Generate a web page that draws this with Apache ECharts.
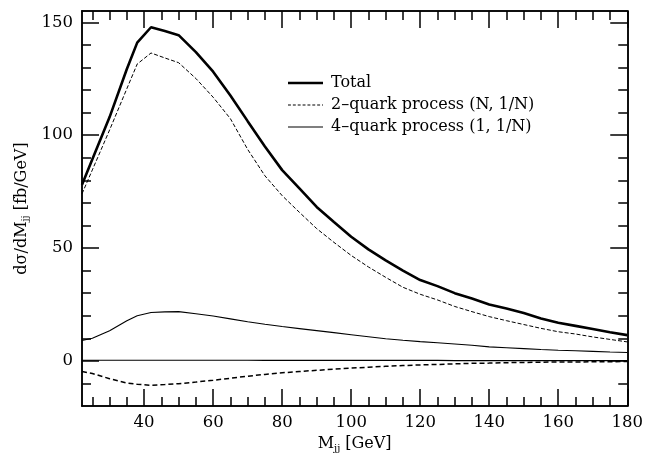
<!DOCTYPE html>
<html><head><meta charset="utf-8">
<script src="https://cdn.jsdelivr.net/npm/echarts@6/dist/echarts.min.js"></script>
<style>html,body{margin:0;padding:0;background:#fff}#c{width:646px;height:458px}</style>
</head><body><div id="c"></div>
<script>
const mass = [22,25,30,35,38,42,46,50,55,60,65,70,75,80,85,90,95,100,105,110,115,120,125,130,135,140,145,150,155,160,165,170,175,180];
const total = [78,89.3,108,129.3,141,147.8,146.1,144.3,136.8,128.1,117.6,106.2,95,84.5,76.4,68.2,61.5,55,49.4,44.5,40,35.8,33.1,30,27.6,25,23.2,21.2,18.8,16.9,15.5,14.1,12.7,11.4];
const twoQuark = [74,84.6,102.3,120.6,131.5,136.4,134.2,132.1,125.1,116.8,107.3,93.7,82,73.2,65.8,58.6,52.5,46.7,41.6,37,32.6,29.5,27,24.1,21.8,19.6,17.8,16.1,14.4,12.9,11.9,10.6,9.5,8.4];
const fourQuark = [9,10,13.3,17.8,20,21.4,21.7,21.8,20.9,19.9,18.6,17.3,16.2,15.2,14.3,13.4,12.5,11.6,10.7,9.8,9.1,8.5,8,7.5,6.9,6.2,5.8,5.4,5,4.7,4.5,4.2,3.9,3.7];
const twoQuarkSub = [-4.7,-5.6,-7.9,-9.8,-10.4,-10.8,-10.5,-10.1,-9.4,-8.6,-7.7,-6.8,-6,-5.3,-4.7,-4.2,-3.7,-3.2,-2.8,-2.4,-2.1,-1.8,-1.6,-1.3,-1.1,-1.0,-0.8,-0.7,-0.6,-0.5,-0.5,-0.4,-0.4,-0.3];
const fourQuarkSub = [0.3,0.3,0.3,0.3,0.3,0.3,0.3,0.3,0.3,0.3,0.3,0.3,0.2,0.2,0.2,0.2,0.2,0.2,0.2,0.2,0.2,0.2,0.2,0.1,0.1,0.1,0.1,0.1,0.1,0.1,0.1,0.1,0.1,0.1];
const xMajorTicks = [40,60,80,100,120,140,160,180];
const xMinorTicks = [25,30,35,45,50,55,65,70,75,85,90,95,105,110,115,125,130,135,145,150,155,165,170,175];
const yMajorTicks = [0,50,100,150];
const yMinorTicks = [-10,10,20,30,40,60,70,80,90,110,120,130,140];
const names = ['Total','2–quark process (N, 1/N)','4–quark process (1, 1/N)'];

const FONT = 'DejaVu Serif';
const X_MIN = 22, X_MAX = 180, Y_MIN = -20, Y_MAX = 155;
const pairs = arr => mass.map((m, i) => [m, arr[i]]);

function xAx(pos, ticks, len, labels, extra) {
  return Object.assign({
    type: 'value', position: pos, min: X_MIN, max: X_MAX,
    axisLine: {show: true, onZero: false, lineStyle: {color: '#000', width: 1.5}},
    axisTick: {show: true, inside: true, length: len, customValues: ticks, lineStyle: {color: '#000', width: 1.5}},
    axisLabel: labels ? {show: true, customValues: ticks, color: '#000', fontFamily: FONT, fontSize: 16.5, margin: 8} : {show: false},
    splitLine: {show: false}
  }, extra || {});
}
function yAx(pos, ticks, len, labels, extra) {
  return Object.assign({
    type: 'value', position: pos, min: Y_MIN, max: Y_MAX,
    axisLine: {show: true, onZero: false, lineStyle: {color: '#000', width: 1.5}},
    axisTick: {show: true, inside: true, length: len, customValues: ticks, lineStyle: {color: '#000', width: 1.5}},
    axisLabel: labels ? {show: true, customValues: ticks, color: '#000', fontFamily: FONT, fontSize: 16.5, margin: 9} : {show: false},
    splitLine: {show: false}
  }, extra || {});
}
// legend icon shapes
let dashPath = 'path://';
for (let i = 0; i < 36; i += 5) dashPath += 'M' + i + ',0H' + Math.min(i + 3, 36) + 'V1H' + i + 'Z';
function legendItem(name, rowCenter, h, icon) {
  return {
    data: [{name: name, icon: icon}], orient: 'horizontal', left: 283, top: rowCenter - 9,
    itemWidth: 35, itemHeight: h, itemGap: 0, selectedMode: false,
    textStyle: {color: '#000', fontFamily: FONT, fontSize: 16, lineHeight: 18, padding: [0, 0, 0, 3]},
    itemStyle: {color: '#000', borderWidth: 0}
  };
}

const chart = echarts.init(document.getElementById('c'));
chart.setOption({
  animation: false,
  backgroundColor: '#fff',
  grid: {left: 82, right: 17, top: 11, bottom: 49},
  legend: [
    legendItem(names[0], 78, 2.6, 'rect'),
    legendItem(names[1], 100, 1, dashPath),
    legendItem(names[2], 122, 1.1, 'rect')
  ],
  xAxis: [
    xAx('bottom', xMajorTicks, 17, true, {
      name: 'M{s|jj} [GeV]', nameLocation: 'middle', nameGap: 29,
      nameTextStyle: {color: '#000', fontFamily: FONT, fontSize: 16,
        rich: {s: {fontFamily: FONT, fontSize: 10, padding: [8, 0, 0, 0], color: '#000'}}}
    }),
    xAx('bottom', xMinorTicks, 9, false),
    xAx('top', xMajorTicks, 17, false),
    xAx('top', xMinorTicks, 9, false)
  ],
  yAxis: [
    yAx('left', yMajorTicks, 17, true, {
      name: 'dσ/dM{s|jj} [fb/GeV]', nameLocation: 'middle', nameGap: 48, nameRotate: 90,
      nameTextStyle: {color: '#000', fontFamily: FONT, fontSize: 16,
        rich: {s: {fontFamily: FONT, fontSize: 10, padding: [8, 0, 0, 0], color: '#000'}}}
    }),
    yAx('left', yMinorTicks, 9, false),
    yAx('right', yMajorTicks, 17, false),
    yAx('right', yMinorTicks, 9, false)
  ],
  series: [
    {name: names[0], type: 'line', data: pairs(total), symbol: 'none', lineStyle: {color: '#000', width: 2.6}, itemStyle: {color: '#000'}},
    {name: names[1], type: 'line', data: pairs(twoQuark), symbol: 'none', lineStyle: {color: '#000', width: 1, type: [4, 2]}, itemStyle: {color: '#000'}},
    {name: names[2], type: 'line', data: pairs(fourQuark), symbol: 'none', lineStyle: {color: '#000', width: 1.1}, itemStyle: {color: '#000'}},
    {name: '2-quark 1/N', type: 'line', data: pairs(twoQuarkSub), symbol: 'none', lineStyle: {color: '#000', width: 1.5, type: [5, 3]}, itemStyle: {color: '#000'}},
    {name: '4-quark 1/N', type: 'line', data: pairs(fourQuarkSub), symbol: 'none', lineStyle: {color: '#000', width: 1.1}, itemStyle: {color: '#000'}}
  ]
});
</script>
</body></html>
